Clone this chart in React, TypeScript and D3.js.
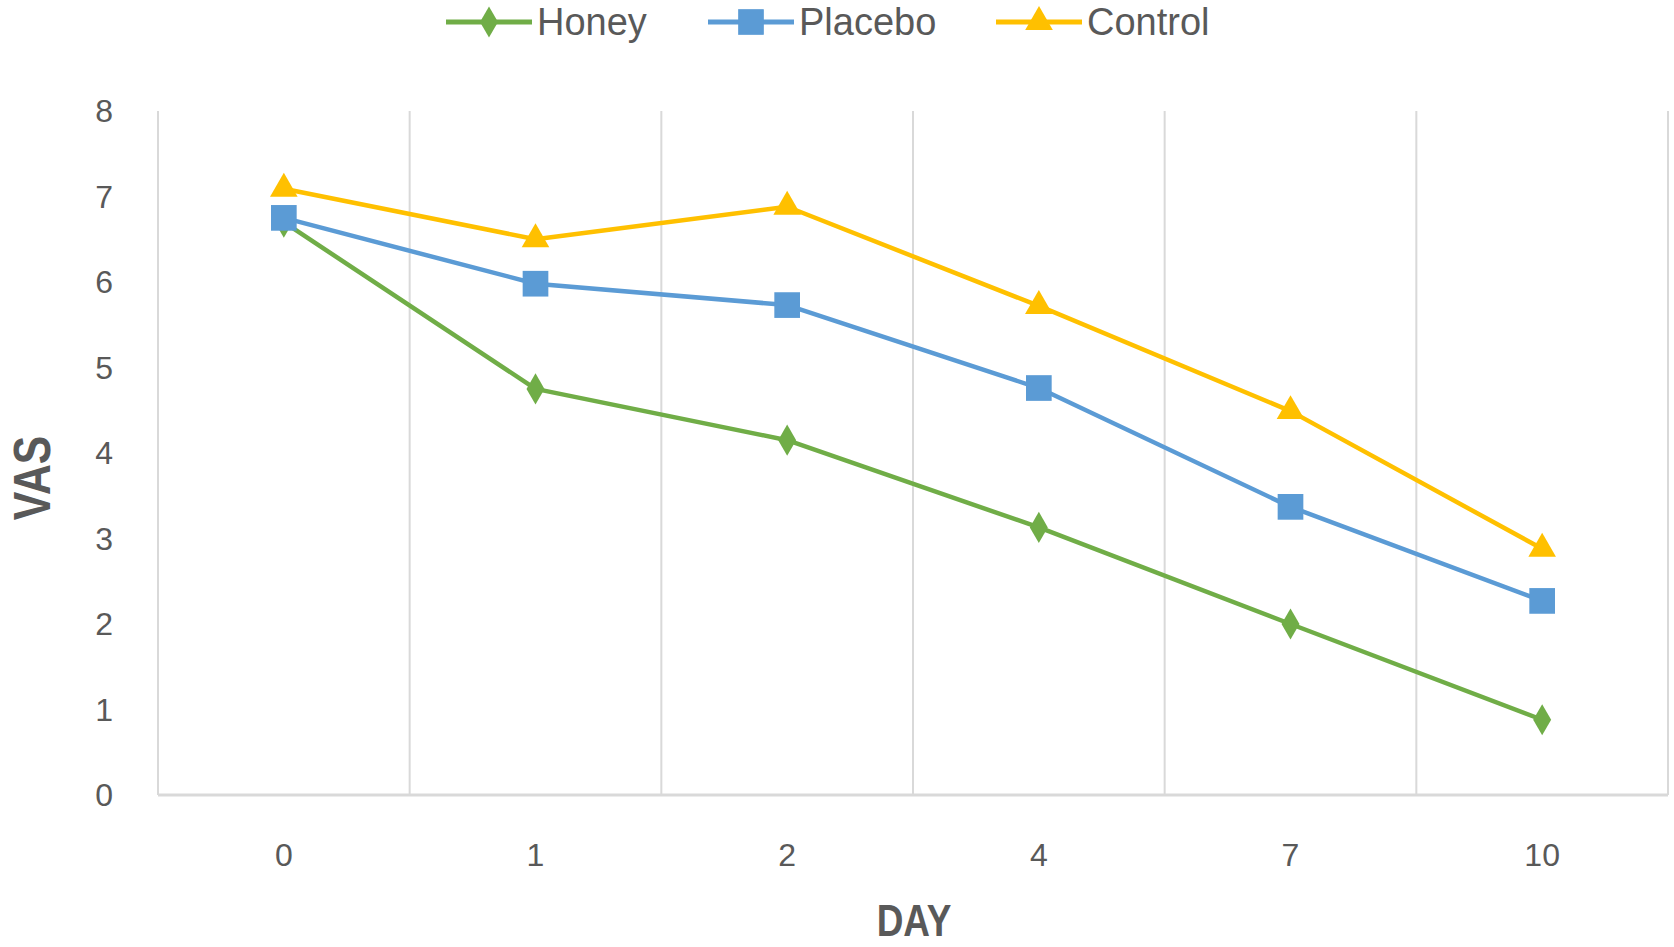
import React from 'react';
import * as d3 from 'd3';

const days = ['0', '1', '2', '4', '7', '10'];
const honey = [6.7, 4.75, 4.15, 3.13, 2.0, 0.88];
const placebo = [6.75, 5.98, 5.73, 4.76, 3.37, 2.27];
const control = [7.09, 6.5, 6.88, 5.72, 4.49, 2.88];
const yTicks = [0, 1, 2, 3, 4, 5, 6, 7, 8];

const series = [
  { name: 'Honey', values: honey, color: '#70AD47', marker: 'diamond' },
  { name: 'Placebo', values: placebo, color: '#5B9BD5', marker: 'square' },
  { name: 'Control', values: control, color: '#FFC000', marker: 'triangle' },
];

const width = 1674;
const height = 947;
const margin = { top: 111, right: 6, bottom: 152, left: 158 };
const font = '"Liberation Sans", Arial, sans-serif';
const textColor = '#595959';

const symbolFor = (m: string) => {
  if (m === 'diamond') return d3.symbol(d3.symbolDiamond, 280)();
  if (m === 'square') return d3.symbol(d3.symbolSquare, 660)();
  return d3.symbol(d3.symbolTriangle, 330)();
};

const Marker: React.FC<{ kind: string; color: string; x: number; y: number }> = ({ kind, color, x, y }) => (
  <path d={symbolFor(kind) || ''} transform={`translate(${x},${y})`} fill={color} />
);

const App: React.FC = () => {
  const x = d3
    .scaleBand<string>()
    .domain(days)
    .range([margin.left, width - margin.right]);
  const y = d3
    .scaleLinear()
    .domain([0, 8])
    .range([height - margin.bottom, margin.top]);

  const line = d3
    .line<number>()
    .x((_, i) => (x(days[i]) as number) + x.bandwidth() / 2)
    .y((d) => y(d));

  const gridXs = [...days.map((d) => x(d) as number), width - margin.right];
  const legendX = [446, 708, 996];

  return (
    <div style={{ position: 'absolute', left: 0, top: 0 }}>
      <svg width={width} height={height} style={{ display: 'block', background: '#fff' }}>
        {/* vertical gridlines */}
        {gridXs.map((gx, i) => (
          <line key={i} x1={gx} x2={gx} y1={y(8)} y2={y(0)} stroke="#d9d9d9" strokeWidth={2} />
        ))}
        <line x1={margin.left} x2={width - margin.right} y1={y(0)} y2={y(0)} stroke="#d9d9d9" strokeWidth={3} />

        {/* y tick labels */}
        {yTicks.map((t) => (
          <text
            key={t}
            x={113}
            y={y(t)}
            textAnchor="end"
            dominantBaseline="central"
            fontFamily={font}
            fontSize={32}
            fill={textColor}
          >
            {t}
          </text>
        ))}

        {/* x tick labels */}
        {days.map((d) => (
          <text
            key={d}
            x={(x(d) as number) + x.bandwidth() / 2}
            y={866}
            textAnchor="middle"
            fontFamily={font}
            fontSize={32}
            fill={textColor}
          >
            {d}
          </text>
        ))}

        {/* axis titles */}
        <text
          x={914}
          y={936}
          textAnchor="middle"
          fontFamily={font}
          fontWeight="bold"
          fontSize={44}
          fill={textColor}
          transform="translate(914,0) scale(0.84,1) translate(-914,0)"
        >
          DAY
        </text>
        <text
          transform="translate(50,478) rotate(-90) scale(0.82,1)"
          textAnchor="middle"
          fontFamily={font}
          fontWeight="bold"
          fontSize={52}
          fill={textColor}
        >
          VAS
        </text>

        {/* series */}
        {series.map((s) => (
          <g key={s.name}>
            <path d={line(s.values) || ''} fill="none" stroke={s.color} strokeWidth={4.5} strokeLinejoin="round" />
            {s.values.map((v, i) => (
              <Marker
                key={i}
                kind={s.marker}
                color={s.color}
                x={(x(days[i]) as number) + x.bandwidth() / 2}
                y={y(v)}
              />
            ))}
          </g>
        ))}

        {/* legend */}
        {series.map((s, i) => (
          <g key={s.name} transform={`translate(${legendX[i]},22)`}>
            <line x1={0} x2={86} y1={0} y2={0} stroke={s.color} strokeWidth={5} />
            <Marker kind={s.marker} color={s.color} x={43} y={0} />
            <text x={91} y={0} dominantBaseline="central" fontFamily={font} fontSize={38} fill={textColor}>
              {s.name}
            </text>
          </g>
        ))}
      </svg>
    </div>
  );
};

export default App;
